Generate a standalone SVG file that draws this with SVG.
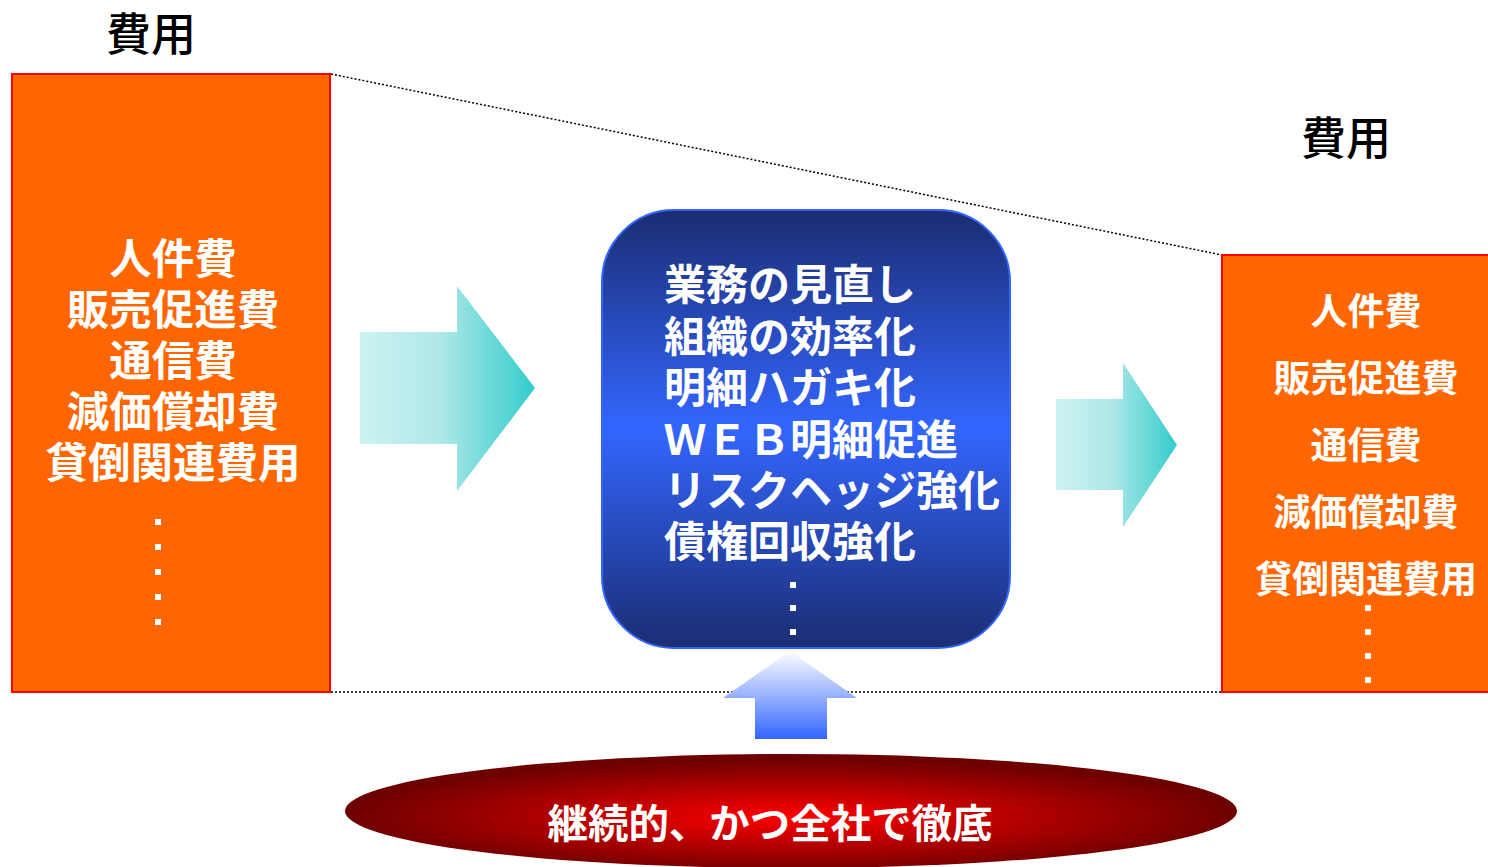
<svg xmlns="http://www.w3.org/2000/svg" width="1488" height="867" viewBox="0 0 1488 867">
<style>
.t{font-family:"Noto Sans CJK JP","Noto Sans CJK SC",sans-serif;font-weight:bold;fill:#fff}
.title{font-family:"Noto Sans CJK JP","Noto Sans CJK SC",sans-serif;font-weight:500;fill:#000;font-size:45px;text-anchor:middle}
.box{fill:#FF6600;stroke:#FF0000;stroke-width:2}
.dot{fill:#fff}
.dl{stroke:#000;stroke-width:1.5;stroke-dasharray:2 2;fill:none}
</style>
<defs>
<linearGradient id="gc" x1="0" y1="0" x2="1" y2="0">
<stop offset="0" stop-color="#CCF2F2"/><stop offset="0.45" stop-color="#B0E8E8"/><stop offset="1" stop-color="#33CCCC"/>
</linearGradient>
<linearGradient id="gb" x1="0" y1="0" x2="0" y2="1">
<stop offset="0" stop-color="#1B2D72"/><stop offset="0.5" stop-color="#3366FF"/><stop offset="1" stop-color="#1B2D72"/>
</linearGradient>
<linearGradient id="gu" x1="0" y1="0" x2="0" y2="1">
<stop offset="0" stop-color="#FFFFFF"/><stop offset="1" stop-color="#3366FF"/>
</linearGradient>
<radialGradient id="gr" cx="0.5" cy="0.55" r="0.5">
<stop offset="0" stop-color="#FF0000"/><stop offset="1" stop-color="#6E0000"/>
</radialGradient>
</defs>

<g id="connectors">
<line class="dl" x1="331" y1="74" x2="1222" y2="255"/>
<line class="dl" x1="331" y1="692" x2="1222" y2="692"/>
<polygon id="arrow-left" fill="url(#gc)" points="360,332 457,332 457,286 535,388 457,491 457,444 360,444"/>
<polygon id="arrow-right" fill="url(#gc)" points="1056,399 1123,399 1123,363 1177,445 1123,527 1123,490 1056,490"/>
<polygon id="arrow-up" fill="url(#gu)" points="790,651 857,698 827,698 827,739 755,739 755,698 723,698"/>
</g>

<g id="title-left"><text class="title" x="151" y="51">費用</text></g>
<g id="title-right"><text class="title" x="1346" y="155">費用</text></g>

<g id="box-left">
<rect class="box" x="12" y="74" width="318" height="618"/>
<text class="t" font-size="42.5" text-anchor="middle" x="173" y="274">人件費</text>
<text class="t" font-size="42.5" text-anchor="middle" x="173" y="325">販売促進費</text>
<text class="t" font-size="42.5" text-anchor="middle" x="173" y="376">通信費</text>
<text class="t" font-size="42.5" text-anchor="middle" x="173" y="427">減価償却費</text>
<text class="t" font-size="42.5" text-anchor="middle" x="173" y="478">貸倒関連費用</text>
<rect class="dot" x="155" y="519" width="6" height="6"/>
<rect class="dot" x="155" y="544" width="6" height="6"/>
<rect class="dot" x="155" y="569" width="6" height="6"/>
<rect class="dot" x="155" y="594" width="6" height="6"/>
<rect class="dot" x="155" y="619" width="6" height="6"/>
</g>

<g id="box-center">
<rect x="602" y="210" width="408" height="438" rx="72" ry="72" fill="url(#gb)" stroke="#3366FF" stroke-width="2"/>
<text class="t" font-size="42" x="664" y="300">業務の見直し</text>
<text class="t" font-size="42" x="664" y="352">組織の効率化</text>
<text class="t" font-size="42" x="664" y="403">明細ハガキ化</text>
<text class="t" font-size="42" x="664" y="455">ＷＥＢ明細促進</text>
<text class="t" font-size="42" x="664" y="506">リスクヘッジ強化</text>
<text class="t" font-size="42" x="664" y="557">債権回収強化</text>
<rect class="dot" x="790" y="582" width="6" height="6"/>
<rect class="dot" x="790" y="605" width="6" height="6"/>
<rect class="dot" x="790" y="629" width="6" height="6"/>
</g>

<g id="box-right">
<rect class="box" x="1222" y="255" width="270" height="437"/>
<text class="t" font-size="37" text-anchor="middle" x="1366" y="325">人件費</text>
<text class="t" font-size="37" text-anchor="middle" x="1366" y="392">販売促進費</text>
<text class="t" font-size="37" text-anchor="middle" x="1366" y="459">通信費</text>
<text class="t" font-size="37" text-anchor="middle" x="1366" y="526">減価償却費</text>
<text class="t" font-size="37" text-anchor="middle" x="1366" y="593">貸倒関連費用</text>
<rect class="dot" x="1365" y="605" width="6" height="6"/>
<rect class="dot" x="1365" y="629" width="6" height="6"/>
<rect class="dot" x="1365" y="653" width="6" height="6"/>
<rect class="dot" x="1365" y="677" width="6" height="6"/>
</g>

<g id="ellipse-bottom">
<ellipse cx="791" cy="811" rx="446" ry="57" fill="url(#gr)"/>
<text class="t" font-size="40" text-anchor="middle" x="770" y="838" textLength="445" lengthAdjust="spacingAndGlyphs">継続的、かつ全社で徹底</text>
</g>
</svg>
